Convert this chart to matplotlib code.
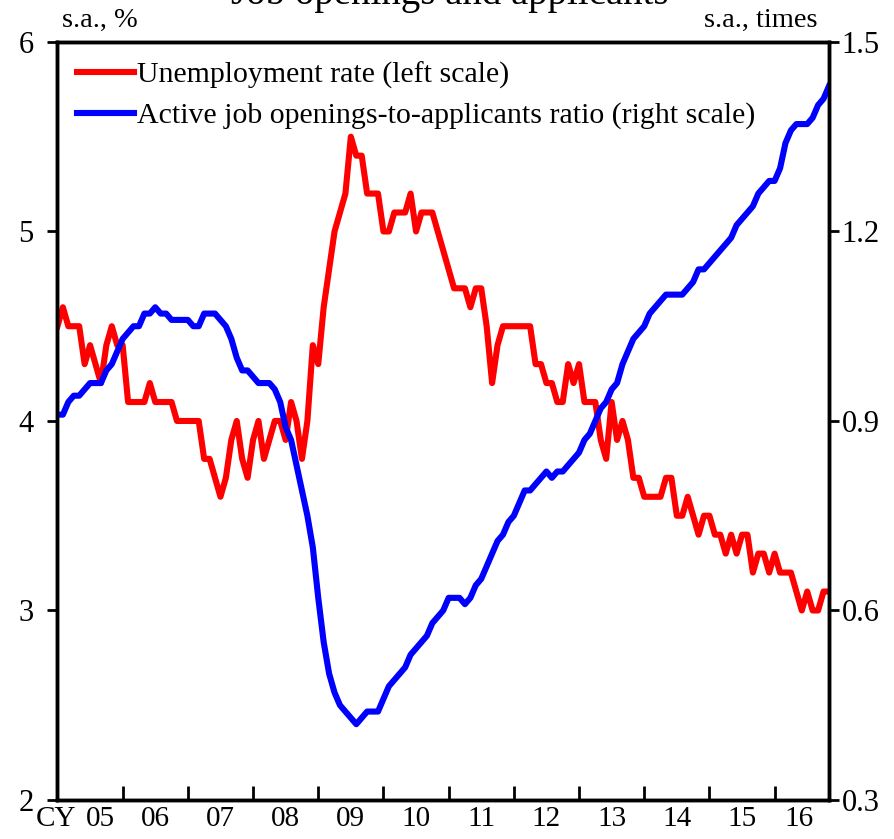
import numpy as np
import matplotlib
matplotlib.use("Agg")
import matplotlib.pyplot as plt

plt.rcParams['font.family'] = ['Liberation Serif', 'DejaVu Serif']
plt.rcParams['font.size'] = 20

# monthly, Jan 2005 - Nov 2016
unemployment = [
    4.5, 4.6, 4.5, 4.5, 4.5, 4.3, 4.4, 4.3, 4.2, 4.4, 4.5, 4.4,  # 05
    4.4, 4.1, 4.1, 4.1, 4.1, 4.2, 4.1, 4.1, 4.1, 4.1, 4.0, 4.0,  # 06
    4.0, 4.0, 4.0, 3.8, 3.8, 3.7, 3.6, 3.7, 3.9, 4.0, 3.8, 3.7,  # 07
    3.9, 4.0, 3.8, 3.9, 4.0, 4.0, 3.9, 4.1, 4.0, 3.8, 4.0, 4.4,  # 08
    4.3, 4.6, 4.8, 5.0, 5.1, 5.2, 5.5, 5.4, 5.4, 5.2, 5.2, 5.2,  # 09
    5.0, 5.0, 5.1, 5.1, 5.1, 5.2, 5.0, 5.1, 5.1, 5.1, 5.0, 4.9,  # 10
    4.8, 4.7, 4.7, 4.7, 4.6, 4.7, 4.7, 4.5, 4.2, 4.4, 4.5, 4.5,  # 11
    4.5, 4.5, 4.5, 4.5, 4.3, 4.3, 4.2, 4.2, 4.1, 4.1, 4.3, 4.2,  # 12
    4.3, 4.1, 4.1, 4.1, 3.9, 3.8, 4.1, 3.9, 4.0, 3.9, 3.7, 3.7,  # 13
    3.6, 3.6, 3.6, 3.6, 3.7, 3.7, 3.5, 3.5, 3.6, 3.5, 3.4, 3.5,  # 14
    3.5, 3.4, 3.4, 3.3, 3.4, 3.3, 3.4, 3.4, 3.2, 3.3, 3.3, 3.2,  # 15
    3.3, 3.2, 3.2, 3.2, 3.1, 3.0, 3.1, 3.0, 3.0, 3.1, 3.1,       # 16
]
job_ratio = [
    0.91, 0.91, 0.93, 0.94, 0.94, 0.95, 0.96, 0.96, 0.96, 0.98, 0.99, 1.01,  # 05
    1.03, 1.04, 1.05, 1.05, 1.07, 1.07, 1.08, 1.07, 1.07, 1.06, 1.06, 1.06,  # 06
    1.06, 1.05, 1.05, 1.07, 1.07, 1.07, 1.06, 1.05, 1.03, 1.00, 0.98, 0.98,  # 07
    0.97, 0.96, 0.96, 0.96, 0.95, 0.93, 0.89, 0.87, 0.83, 0.79, 0.75, 0.70,  # 08
    0.62, 0.55, 0.50, 0.47, 0.45, 0.44, 0.43, 0.42, 0.43, 0.44, 0.44, 0.44,  # 09
    0.46, 0.48, 0.49, 0.50, 0.51, 0.53, 0.54, 0.55, 0.56, 0.58, 0.59, 0.60,  # 10
    0.62, 0.62, 0.62, 0.61, 0.62, 0.64, 0.65, 0.67, 0.69, 0.71, 0.72, 0.74,  # 11
    0.75, 0.77, 0.79, 0.79, 0.80, 0.81, 0.82, 0.81, 0.82, 0.82, 0.83, 0.84,  # 12
    0.85, 0.87, 0.88, 0.90, 0.92, 0.93, 0.95, 0.96, 0.99, 1.01, 1.03, 1.04,  # 13
    1.05, 1.07, 1.08, 1.09, 1.10, 1.10, 1.10, 1.10, 1.11, 1.12, 1.14, 1.14,  # 14
    1.15, 1.16, 1.17, 1.18, 1.19, 1.21, 1.22, 1.23, 1.24, 1.26, 1.27, 1.28,  # 15
    1.28, 1.30, 1.34, 1.36, 1.37, 1.37, 1.37, 1.38, 1.40, 1.41, 1.43,        # 16
]
year_labels = ["05", "06", "07", "08", "09", "10", "11", "12", "13", "14", "15", "16"]

months = np.arange(len(unemployment))

fig = plt.figure(figsize=(8.95, 8.39), dpi=100)
ax = fig.add_axes([0.0642, 0.0465, 0.862, 0.9035])
ax2 = ax.twinx()

l1, = ax.plot(months, unemployment, color="#ff0000", lw=4.4,
              label="Unemployment rate (left scale)")
l2, = ax2.plot(months, job_ratio, color="#0000ff", lw=4.4,
               label="Active job openings-to-applicants ratio (right scale)")

ax.set_xlim(0, len(unemployment) - 1)
ax.set_ylim(2, 6)
ax2.set_ylim(0.3, 1.5)
ax.set_yticks([2, 3, 4, 5, 6])
ax2.set_yticks([0.3, 0.6, 0.9, 1.2, 1.5])
ax2.set_yticklabels(["0.3", "0.6", "0.9", "1.2", "1.5"])

# year ticks at January, labels centred in each year (edge labels nudged inward)
ax.set_xticks(np.arange(0, len(unemployment), 12))
ax.set_xticklabels([])
label_pos = np.arange(6, len(unemployment), 12).astype(float)
label_pos[0] += 2
label_pos[-1] -= 1.5
ax.set_xticks(label_pos, minor=True)
ax.set_xticklabels(year_labels, minor=True)
ax.tick_params(axis="x", which="major", direction="in", length=10, width=2)
ax.tick_params(axis="x", which="minor", length=0, pad=4, labelsize=21)
ax.tick_params(axis="y", direction="out", length=7, width=2, labelsize=22, pad=10)
ax2.tick_params(axis="y", direction="out", length=7, width=2, labelsize=22, pad=2)

for a in (ax, ax2):
    for s in a.spines.values():
        s.set_linewidth(2.5)

ax.text(0.025, -0.0245, "CY", transform=ax.transAxes, ha="right", va="center", fontsize=21)
ax.text(0.006, 1.012, "s.a., %", transform=ax.transAxes, ha="left", va="bottom", fontsize=20.5)
ax.text(0.985, 1.012, "s.a., times", transform=ax.transAxes, ha="right", va="bottom", fontsize=20.5)

# title sits mostly above the image edge, only its lower part shows
fig.text(0.503, 0.9955, "Job openings and applicants", ha="center", va="baseline", fontsize=28)

ax2.legend([l1, l2], [l1.get_label(), l2.get_label()], loc="upper left",
           bbox_to_anchor=(0.0, 1.0), frameon=False, fontsize=21.5,
           handlelength=1.9, handletextpad=0.1, labelspacing=0.45,
           borderaxespad=0.25)

fig.savefig("out.png", dpi=100)
